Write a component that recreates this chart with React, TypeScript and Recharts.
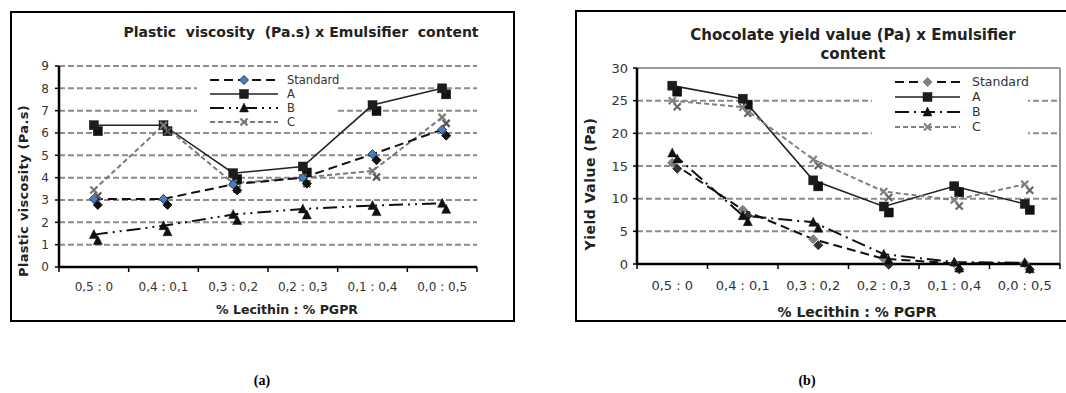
import React from 'react';
import { LineChart, Line, XAxis, YAxis, CartesianGrid, Legend, ReferenceLine } from 'recharts';

const categories = ['0,5 : 0', '0,4 : 0,1', '0,3 : 0,2', '0,2 : 0,3', '0,1 : 0,4', '0,0 : 0,5'];
const seriesNames = ['Standard', 'A', 'B', 'C'];

// (a) Plastic viscosity (Pa.s)
const viscStandard = [3.05, 3.05, 3.7, 4.0, 5.05, 6.15];
const viscA = [6.35, 6.35, 4.2, 4.5, 7.25, 8.0];
const viscB = [1.45, 1.85, 2.35, 2.6, 2.75, 2.85];
const viscC = [3.45, 6.35, 3.75, 4.0, 4.3, 6.7];
const viscTicks = [0, 1, 2, 3, 4, 5, 6, 7, 8, 9];

// (b) Yield value (Pa)
const yieldStandard = [15.5, 8.3, 3.8, 0.8, 0.1, 0.1];
const yieldA = [27.3, 25.3, 12.8, 8.8, 11.9, 9.2];
const yieldB = [17.0, 7.4, 6.4, 1.5, 0.3, 0.2];
const yieldC = [25.0, 24.0, 16.0, 11.1, 9.8, 12.2];
const yieldTicks = [0, 5, 10, 15, 20, 25, 30];

const xTicks = [-0.5, 0, 0.5, 1, 1.5, 2, 2.5, 3, 3.5, 4, 4.5, 5, 5.5];

const viscData = categories.map((c, i) => ({ x: i, Standard: viscStandard[i], A: viscA[i], B: viscB[i], C: viscC[i] }));
const yieldData = categories.map((c, i) => ({ x: i, Standard: yieldStandard[i], A: yieldA[i], B: yieldB[i], C: yieldC[i] }));

const FONT = '"DejaVu Sans", Verdana, sans-serif';

type Shape = 'diamond' | 'square' | 'triangle' | 'x';
interface SeriesStyle {
  stroke: string;
  width: number;
  dash?: string;
  shape: Shape;
  fill: string;
  mstroke: string;
  shadow: string;
}

const leftStyles: Record<string, SeriesStyle> = {
  Standard: { stroke: '#111', width: 2, dash: '9 5', shape: 'diamond', fill: '#4a7ebb', mstroke: '#1f3a5f', shadow: '#111' },
  A: { stroke: '#222', width: 1.6, shape: 'square', fill: '#1c1c1c', mstroke: '#1c1c1c', shadow: '#111' },
  B: { stroke: '#111', width: 2, dash: '14 5 2 5 2 5', shape: 'triangle', fill: '#111', mstroke: '#111', shadow: '#111' },
  C: { stroke: '#7a7a7a', width: 2, dash: '5 3', shape: 'x', fill: '#7a7a7a', mstroke: '#7a7a7a', shadow: '#555' },
};
const rightStyles: Record<string, SeriesStyle> = {
  Standard: { stroke: '#111', width: 2, dash: '9 5', shape: 'diamond', fill: '#808080', mstroke: '#808080', shadow: '#333' },
  A: { stroke: '#222', width: 1.6, shape: 'square', fill: '#1c1c1c', mstroke: '#1c1c1c', shadow: '#111' },
  B: { stroke: '#111', width: 2, dash: '14 5 2 5', shape: 'triangle', fill: '#111', mstroke: '#111', shadow: '#111' },
  C: { stroke: '#808080', width: 2, dash: '5 3', shape: 'x', fill: '#808080', mstroke: '#808080', shadow: '#666' },
};

function shapeEl(shape: Shape, cx: number, cy: number, fill: string, stroke: string) {
  switch (shape) {
    case 'diamond':
      return <polygon points={`${cx},${cy - 4.5} ${cx + 4.5},${cy} ${cx},${cy + 4.5} ${cx - 4.5},${cy}`} fill={fill} stroke={stroke} strokeWidth={1} />;
    case 'square':
      return <rect x={cx - 4.5} y={cy - 4.5} width={9} height={9} fill={fill} stroke={stroke} strokeWidth={0.5} />;
    case 'triangle':
      return <polygon points={`${cx},${cy - 5} ${cx + 4.5},${cy + 4} ${cx - 4.5},${cy + 4}`} fill={fill} stroke={stroke} strokeWidth={0.5} />;
    default:
      return <path d={`M${cx - 3.5},${cy - 3.5}L${cx + 3.5},${cy + 3.5}M${cx + 3.5},${cy - 3.5}L${cx - 3.5},${cy + 3.5}`} stroke={stroke} strokeWidth={2.2} fill="none" />;
  }
}

function makeDot(st: SeriesStyle, dx: number, dy: number) {
  return (props: any) => {
    const { cx, cy, index } = props;
    if (cx == null || cy == null) return <g key={`e${index}`} />;
    return (
      <g key={`d${index}`}>
        {shapeEl(st.shape, cx + dx, cy + dy, st.shadow, st.shadow)}
        {shapeEl(st.shape, cx, cy, st.fill, st.mstroke)}
      </g>
    );
  };
}

function makeXTick(fontSize: number, offset: number) {
  return (props: any) => {
    const { x, y, payload } = props;
    const v = payload.value;
    if (Number.isInteger(v)) {
      return (
        <text x={x} y={y + offset} dy="0.71em" textAnchor="middle" fontSize={fontSize} fontFamily={FONT} fill="#333">
          {categories[v]}
        </text>
      );
    }
    return <line x1={x} x2={x} y1={y} y2={y + 5} stroke="#000" strokeWidth={1.5} />;
  };
}

function LegendBox({ styles, width, height, svgWidth, rowsY, x1, x2, tx, fontSize }: any) {
  return (
    <svg width={svgWidth} height={height} style={{ display: 'block', overflow: 'visible' }}>
      <rect x={0} y={0} width={width} height={height} fill="#fff" />
      {seriesNames.map((n, i) => {
        const st: SeriesStyle = styles[n];
        const y = rowsY[i];
        const mx = (x1 + x2) / 2;
        return (
          <g key={n}>
            <line x1={x1} x2={x2} y1={y} y2={y} stroke={st.stroke} strokeWidth={st.width} strokeDasharray={st.dash} />
            {shapeEl(st.shape, mx, y, st.fill, st.mstroke)}
            <text x={tx} y={y} dy="0.35em" fontSize={fontSize} fontFamily={FONT} fill="#333">{n}</text>
          </g>
        );
      })}
    </svg>
  );
}

const gridStyle = { stroke: '#8c8c8c', strokeDasharray: '6 3', strokeWidth: 2 };

export default function App() {
  return (
    <div style={{ position: 'absolute', left: 0, top: 0, width: 1066, height: 393, overflow: 'hidden', background: '#fff', fontFamily: FONT }}>
      {/* Panel (a) */}
      <div style={{ position: 'absolute', left: 10, top: 11, width: 505, height: 311, border: '2px solid #000', boxSizing: 'border-box' }} />
      <div style={{ position: 'absolute', left: 10, top: 11 }}>
        <LineChart width={505} height={311} data={viscData} margin={{ top: 55, right: 38, bottom: 35, left: 14 }}>
          <CartesianGrid vertical={false} {...gridStyle} />
          <XAxis dataKey="x" type="number" domain={[-0.5, 5.5]} ticks={xTicks} interval={0} height={20}
            tickSize={0} tickMargin={0} tickLine={false} axisLine={{ stroke: '#000', strokeWidth: 2.5 }}
            tick={makeXTick(12, 15)} />
          <YAxis type="number" domain={[0, 9]} ticks={viscTicks} interval={0} width={35} tickSize={4} tickMargin={6}
            axisLine={{ stroke: '#000', strokeWidth: 2.5 }} tickLine={{ stroke: '#000', strokeWidth: 1.5 }}
            tick={{ fontSize: 12, fill: '#333', fontFamily: FONT }} />
          {['A', 'C', 'Standard', 'B'].map((n) => {
            const st = leftStyles[n];
            return (
              <Line key={n} type="linear" dataKey={n} stroke={st.stroke} strokeWidth={st.width} strokeDasharray={st.dash}
                dot={makeDot(st, 4, 6)} activeDot={false} isAnimationActive={false} legendType="none" />
            );
          })}
          <Legend layout="vertical" align="center" verticalAlign="middle"
            wrapperStyle={{ left: 187, top: 59, width: 150, height: 58 }}
            content={() => <LegendBox styles={leftStyles} width={138} svgWidth={150} height={58} rowsY={[10, 24, 38, 52]} x1={13} x2={81} tx={90} fontSize={11.5} />} />
        </LineChart>
      </div>
      <div style={{ position: 'absolute', left: 100, width: 402, top: 24, textAlign: 'center', fontSize: 14, lineHeight: '17px', fontWeight: 'bold', color: '#222', whiteSpace: 'pre' }}>
        {'Plastic  viscosity  (Pa.s) x Emulsifier  content'}
      </div>
      <div style={{ position: 'absolute', left: 23, top: 191, transform: 'translate(-50%,-50%) rotate(-90deg)', fontSize: 13, fontWeight: 'bold', color: '#222', whiteSpace: 'nowrap', letterSpacing: 0.3 }}>
        Plastic viscosity (Pa.s)
      </div>
      <div style={{ position: 'absolute', left: 187, width: 200, top: 302, textAlign: 'center', fontSize: 12.5, lineHeight: '16px', fontWeight: 'bold', color: '#222', whiteSpace: 'pre' }}>
        {'% Lecithin : % PGPR'}
      </div>

      {/* Panel (b) */}
      <div style={{ position: 'absolute', left: 575, top: 10, width: 520, height: 312, border: '2px solid #000', boxSizing: 'border-box' }} />
      <div style={{ position: 'absolute', left: 575, top: 10 }}>
        <LineChart width={495} height={312} data={yieldData} margin={{ top: 58, right: 10, bottom: 38, left: 22 }}>
          <CartesianGrid vertical={false} {...gridStyle} />
          <ReferenceLine y={30} stroke="#999" strokeWidth={2} />
          <ReferenceLine x={5.5} stroke="#999" strokeWidth={2} />
          <XAxis dataKey="x" type="number" domain={[-0.5, 5.5]} ticks={xTicks} interval={0} height={20}
            tickSize={0} tickMargin={0} tickLine={false} axisLine={{ stroke: '#000', strokeWidth: 2.5 }}
            tick={makeXTick(13, 17)} />
          <YAxis type="number" domain={[0, 30]} ticks={yieldTicks} interval={0} width={40} tickSize={4} tickMargin={5}
            axisLine={{ stroke: '#000', strokeWidth: 2.5 }} tickLine={{ stroke: '#000', strokeWidth: 1.5 }}
            tick={{ fontSize: 13, fill: '#333', fontFamily: FONT }} />
          {['A', 'C', 'Standard', 'B'].map((n) => {
            const st = rightStyles[n];
            return (
              <Line key={n} type="linear" dataKey={n} stroke={st.stroke} strokeWidth={st.width} strokeDasharray={st.dash}
                dot={makeDot(st, 5, 6)} activeDot={false} isAnimationActive={false} legendType="none" />
            );
          })}
          <Legend layout="vertical" align="center" verticalAlign="middle"
            wrapperStyle={{ left: 297, top: 62, width: 170, height: 65 }}
            content={() => <LegendBox styles={rightStyles} width={156} svgWidth={170} height={65} rowsY={[10, 25, 40, 55]} x1={23} x2={88} tx={100} fontSize={12.5} />} />
        </LineChart>
      </div>
      <div style={{ position: 'absolute', left: 653, width: 400, top: 26, textAlign: 'center', fontSize: 15, lineHeight: '19px', fontWeight: 'bold', color: '#222' }}>
        Chocolate yield value (Pa) x Emulsifier<br />content
      </div>
      <div style={{ position: 'absolute', left: 590, top: 184, transform: 'translate(-50%,-50%) rotate(-90deg)', fontSize: 14, fontWeight: 'bold', color: '#222', whiteSpace: 'nowrap', letterSpacing: 0.5 }}>
        Yield Value (Pa)
      </div>
      <div style={{ position: 'absolute', left: 757, width: 200, top: 303, textAlign: 'center', fontSize: 14, lineHeight: '18px', fontWeight: 'bold', color: '#222', whiteSpace: 'pre' }}>
        {'% Lecithin : % PGPR'}
      </div>

      {/* Sub-captions */}
      <div style={{ position: 'absolute', left: 232, width: 60, top: 373, textAlign: 'center', fontSize: 14, lineHeight: '16px', fontWeight: 'bold', fontFamily: '"Liberation Serif", "Times New Roman", serif', color: '#000' }}>(a)</div>
      <div style={{ position: 'absolute', left: 777, width: 60, top: 373, textAlign: 'center', fontSize: 14, lineHeight: '16px', fontWeight: 'bold', fontFamily: '"Liberation Serif", "Times New Roman", serif', color: '#000' }}>(b)</div>
    </div>
  );
}
